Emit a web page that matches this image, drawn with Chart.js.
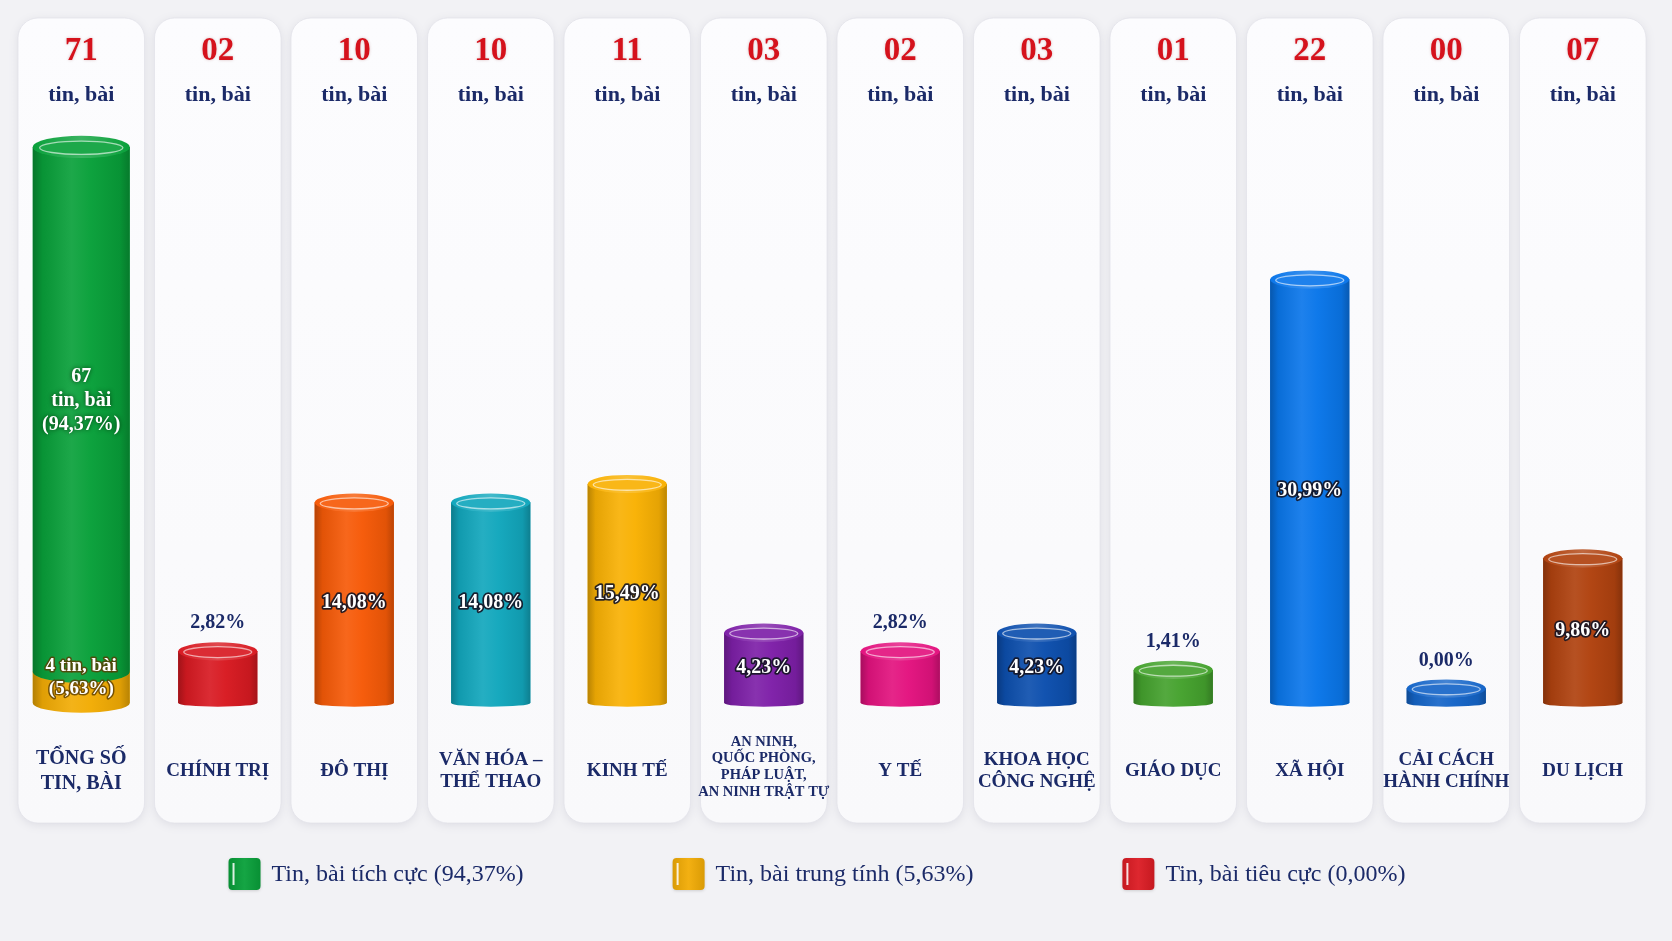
<!DOCTYPE html>
<html>
<head>
<meta charset="utf-8">
<script src="https://cdn.jsdelivr.net/npm/chart.js@4.4.1/dist/chart.umd.min.js"></script>
<style>
  html, body { margin: 0; padding: 0; background: #f2f2f5; }
  canvas { display: block; }
</style>
</head>
<body>
<canvas id="c" width="1672" height="941"></canvas>
<script>
// ---------------- DATA ----------------
const categories = [
  ["TỔNG SỐ", "TIN, BÀI"],
  ["CHÍNH TRỊ"],
  ["ĐÔ THỊ"],
  ["VĂN HÓA –", "THỂ THAO"],
  ["KINH TẾ"],
  ["AN NINH,", "QUỐC PHÒNG,", "PHÁP LUẬT,", "AN NINH TRẬT TỰ"],
  ["Y TẾ"],
  ["KHOA HỌC", "CÔNG NGHỆ"],
  ["GIÁO DỤC"],
  ["XÃ HỘI"],
  ["CẢI CÁCH", "HÀNH CHÍNH"],
  ["DU LỊCH"]
];
const positiveTotal = [67];
const neutralTotal = [4];
const negativeTotal = [0];
const sharePercents = [94.37, 5.63, 0.00];          // tích cực, trung tính, tiêu cực
const topicCounts = [2, 10, 10, 11, 3, 2, 3, 1, 22, 0, 7];
const topicPercents = [2.82, 14.08, 14.08, 15.49, 4.23, 2.82, 4.23, 1.41, 30.99, 0.00, 9.86];
const legendLabels = [
  "Tin, bài tích cực (94,37%)",
  "Tin, bài trung tính (5,63%)",
  "Tin, bài tiêu cực (0,00%)"
];
const unitLabel = "tin, bài";

// ---------------- STYLE ----------------
const topicColors = ['#d81a22', '#f65a08', '#12a7bd', '#f9b104', '#7e20a8', '#e3137f',
                     '#0d4fae', '#45a22e', '#0a76ea', '#1565c8', '#b0420f'];
const positiveColor = '#09a03a';
const neutralColor = '#f2ac05';
const negativeColor = '#dc1c24';
const FONT = '"Liberation Serif", "Times New Roman", serif';
const NAVY = '#1b2a68';
const RED = '#d5121c';

const headerCounts = [positiveTotal[0] + neutralTotal[0] + negativeTotal[0], ...topicCounts];
const fmtPct = v => v.toFixed(2).replace('.', ',') + '%';
const pad2 = n => String(n).padStart(2, '0');

function shade(hex, amt) {
  const n = parseInt(hex.slice(1), 16);
  let r = n >> 16, g = (n >> 8) & 255, b = n & 255;
  const t = amt < 0 ? 0 : 255, p = Math.abs(amt);
  r = Math.round(r + (t - r) * p); g = Math.round(g + (t - g) * p); b = Math.round(b + (t - b) * p);
  return `rgb(${r},${g},${b})`;
}

function cylinder(ctx, x, top, base, w, color, opts = {}) {
  const rx = w / 2;
  const ry = w * 0.115;
  const bry = opts.bottomRy !== undefined ? opts.bottomRy : ry * 0.4;
  ctx.save();
  const g = ctx.createLinearGradient(x - rx, 0, x + rx, 0);
  g.addColorStop(0, shade(color, -0.26));
  g.addColorStop(0.1, shade(color, -0.08));
  g.addColorStop(0.4, shade(color, 0.08));
  g.addColorStop(0.6, shade(color, 0.02));
  g.addColorStop(0.9, shade(color, -0.08));
  g.addColorStop(1, shade(color, -0.24));
  ctx.beginPath();
  ctx.moveTo(x - rx, top);
  ctx.lineTo(x - rx, base);
  ctx.ellipse(x, base, rx, Math.max(bry, 0.01), 0, Math.PI, 0, true);
  ctx.lineTo(x + rx, top);
  ctx.closePath();
  ctx.fillStyle = g;
  ctx.fill();
  // top cap
  ctx.beginPath();
  ctx.ellipse(x, top, rx, ry, 0, 0, Math.PI * 2);
  const cg = ctx.createLinearGradient(x - rx, 0, x + rx, 0);
  cg.addColorStop(0, shade(color, 0.0));
  cg.addColorStop(0.5, shade(color, 0.2));
  cg.addColorStop(1, shade(color, 0.0));
  ctx.fillStyle = cg;
  ctx.fill();
  ctx.beginPath();
  ctx.ellipse(x, top + 0.8, rx * 0.86, ry * 0.6, 0, 0, Math.PI * 2);
  ctx.fillStyle = shade(color, 0.08);
  ctx.fill();
  ctx.strokeStyle = 'rgba(255,255,255,0.6)';
  ctx.lineWidth = 1.3;
  ctx.stroke();
  ctx.restore();
}

function outlinedText(ctx, text, x, y, font) {
  ctx.font = font;
  ctx.lineJoin = 'round';
  ctx.lineWidth = 3.5;
  ctx.strokeStyle = 'rgba(20,20,35,0.9)';
  ctx.strokeText(text, x, y);
  ctx.fillStyle = '#ffffff';
  ctx.fillText(text, x, y);
}

const cylinderPlugin = {
  id: 'cylinders',
  beforeDraw(chart) {
    const ctx = chart.ctx, xs = chart.scales.x;
    ctx.save();
    ctx.fillStyle = '#f2f2f5';
    ctx.fillRect(0, 0, chart.width, chart.height);
    const step = xs.width / categories.length;
    const cw = step - 10;
    for (let i = 0; i < categories.length; i++) {
      const cx = xs.getPixelForValue(i);
      ctx.save();
      ctx.shadowColor = 'rgba(30,30,70,0.10)';
      ctx.shadowBlur = 10;
      ctx.shadowOffsetY = 2;
      ctx.beginPath();
      ctx.roundRect(cx - cw / 2, 18, cw, 805, 20);
      const bg = ctx.createLinearGradient(0, 18, 0, 823);
      bg.addColorStop(0, '#fcfcfe');
      bg.addColorStop(1, '#f9f9fb');
      ctx.fillStyle = bg;
      ctx.fill();
      ctx.restore();
      ctx.beginPath();
      ctx.roundRect(cx - cw / 2, 18, cw, 805, 20);
      ctx.strokeStyle = 'rgba(225,225,232,0.7)';
      ctx.lineWidth = 1;
      ctx.stroke();
    }
    ctx.restore();
  },
  afterDatasetsDraw(chart) {
    const ctx = chart.ctx;
    const mt = chart.getDatasetMeta(3);
    mt.data.forEach((el, i) => {
      if (i === 0) return;
      const p = el.getProps(['x', 'y', 'base', 'width'], true);
      cylinder(ctx, p.x, p.y, p.base, p.width, topicColors[i - 1]);
    });
    const mn = chart.getDatasetMeta(0).data[0].getProps(['x', 'y', 'base', 'width'], true);
    cylinder(ctx, mn.x, mn.y, mn.base, mn.width, neutralColor, { bottomRy: mn.width * 0.1 });
    const mp = chart.getDatasetMeta(1).data[0].getProps(['x', 'y', 'base', 'width'], true);
    cylinder(ctx, mp.x, mp.y, mp.base, mp.width, positiveColor, { bottomRy: mp.width * 0.115 });
  },
  afterDraw(chart) {
    const ctx = chart.ctx, xs = chart.scales.x;
    ctx.save();
    ctx.textAlign = 'center';
    ctx.textBaseline = 'middle';
    for (let i = 0; i < categories.length; i++) {
      const cx = xs.getPixelForValue(i);
      ctx.save();
      ctx.shadowColor = 'rgba(120,0,0,0.25)';
      ctx.shadowBlur = 3;
      ctx.font = `bold 33px ${FONT}`;
      ctx.fillStyle = RED;
      ctx.fillText(pad2(headerCounts[i]), cx, 51);
      ctx.restore();
      ctx.font = `bold 22px ${FONT}`;
      ctx.fillStyle = NAVY;
      ctx.fillText(unitLabel, cx, 95);
      const lines = categories[i];
      let fs = 19, lh = 22.5;
      if (lines.length >= 4) { fs = 14.5; lh = 16.8; }
      if (i === 0) { fs = 20; lh = 25; }
      ctx.font = `bold ${fs}px ${FONT}`;
      const cy = lines.length >= 4 ? 767 : 771;
      lines.forEach((t, k) => {
        ctx.fillText(t, cx, cy + (k - (lines.length - 1) / 2) * lh);
      });
    }
    const mt = chart.getDatasetMeta(3);
    mt.data.forEach((el, i) => {
      if (i === 0) return;
      const p = el.getProps(['x', 'y', 'base', 'width'], true);
      const txt = fmtPct(topicPercents[i - 1]);
      if (topicCounts[i - 1] >= 3) {
        outlinedText(ctx, txt, p.x, (p.y + p.base) / 2, `bold 20px ${FONT}`);
      } else {
        ctx.font = `bold 20px ${FONT}`;
        ctx.fillStyle = NAVY;
        ctx.fillText(txt, p.x, p.y - p.width * 0.115 - 19);
      }
    });
    const mp = chart.getDatasetMeta(1).data[0].getProps(['x', 'y', 'base'], true);
    const mn = chart.getDatasetMeta(0).data[0].getProps(['x', 'y', 'base'], true);
    ctx.save();
    ctx.shadowColor = 'rgba(0,30,0,0.8)';
    ctx.shadowBlur = 4;
    ctx.fillStyle = '#ffffff';
    ctx.font = `bold 20px ${FONT}`;
    const gl = [String(positiveTotal[0]), unitLabel, '(' + fmtPct(sharePercents[0]) + ')'];
    const gc = (mp.y + mp.base) / 2 - 8;
    gl.forEach((t, k) => ctx.fillText(t, mp.x, gc + (k - 1) * 24));
    ctx.restore();
    const yl = [neutralTotal[0] + ' ' + unitLabel, '(' + fmtPct(sharePercents[1]) + ')'];
    const yc = (mn.y + mn.base) / 2 - 10;
    yl.forEach((t, k) => {
      ctx.save();
      ctx.font = `bold 19px ${FONT}`;
      ctx.lineJoin = 'round';
      ctx.lineWidth = 3;
      ctx.strokeStyle = 'rgba(90,60,0,0.8)';
      ctx.strokeText(t, mn.x, yc + (k - 0.5) * 23);
      ctx.fillStyle = '#ffffff';
      ctx.fillText(t, mn.x, yc + (k - 0.5) * 23);
      ctx.restore();
    });
    const lcolors = [positiveColor, neutralColor, negativeColor];
    ctx.font = `24px ${FONT}`;
    const widths = legendLabels.map(t => ctx.measureText(t).width);
    const sq = 32, gapT = 11, gapItems = 149;
    const total = widths.reduce((a, w) => a + sq + gapT + w, 0) + gapItems * (legendLabels.length - 1);
    let lx = 817 - total / 2;
    const ly = 874;
    ctx.textAlign = 'left';
    legendLabels.forEach((t, k) => {
      const c = lcolors[k];
      ctx.save();
      ctx.shadowColor = 'rgba(0,0,0,0.15)';
      ctx.shadowBlur = 3;
      ctx.shadowOffsetY = 1;
      ctx.beginPath();
      ctx.roundRect(lx, ly - sq / 2, sq, sq, 4);
      const sg = ctx.createLinearGradient(lx, 0, lx + sq, 0);
      sg.addColorStop(0, shade(c, -0.1));
      sg.addColorStop(0.5, shade(c, 0.05));
      sg.addColorStop(1, shade(c, -0.1));
      ctx.fillStyle = sg;
      ctx.fill();
      ctx.restore();
      ctx.beginPath();
      ctx.moveTo(lx + 5, ly - sq / 2 + 5);
      ctx.lineTo(lx + 5, ly + sq / 2 - 5);
      ctx.strokeStyle = 'rgba(255,255,255,0.85)';
      ctx.lineWidth = 2;
      ctx.stroke();
      ctx.fillStyle = NAVY;
      ctx.font = `24px ${FONT}`;
      ctx.fillText(t, lx + sq + gapT, ly + 1);
      lx += sq + gapT + widths[k] + gapItems;
    });
    ctx.restore();
  }
};

function build() {
  const onlyFirst = v => categories.map((_, i) => (i === 0 ? v : null));
  new Chart(document.getElementById('c'), {
    type: 'bar',
    data: {
      labels: categories,
      datasets: [
        { label: 'Tin, bài trung tính', data: onlyFirst(neutralTotal[0]), yAxisID: 'yTotal',
          backgroundColor: neutralColor, barPercentage: 0.71, categoryPercentage: 1 },
        { label: 'Tin, bài tích cực', data: onlyFirst(positiveTotal[0]), yAxisID: 'yTotal',
          backgroundColor: positiveColor, barPercentage: 0.71, categoryPercentage: 1 },
        { label: 'Tin, bài tiêu cực', data: onlyFirst(negativeTotal[0]), yAxisID: 'yTotal',
          backgroundColor: negativeColor, barPercentage: 0.71, categoryPercentage: 1 },
        { label: 'Chủ đề', data: [null, ...topicCounts], yAxisID: 'y', base: -0.78,
          backgroundColor: [null, ...topicColors], barPercentage: 0.58, categoryPercentage: 1 }
      ]
    },
    options: {
      responsive: false,
      devicePixelRatio: 1,
      animation: false,
      events: [],
      layout: { padding: { left: 13, right: 21, top: 136, bottom: 238 } },
      plugins: { legend: { display: false }, tooltip: { enabled: false } },
      scales: {
        x: { display: false, stacked: true },
        y: { display: false, min: -0.78, max: 29.72 },
        yTotal: { display: false, stacked: true, min: 0, max: 72.4 }
      }
    },
    plugins: [cylinderPlugin]
  });
}

Promise.all([
  document.fonts.load(`bold 20px "Liberation Serif"`),
  document.fonts.load(`24px "Liberation Serif"`)
]).catch(() => {}).then(build);
</script>
</body>
</html>
